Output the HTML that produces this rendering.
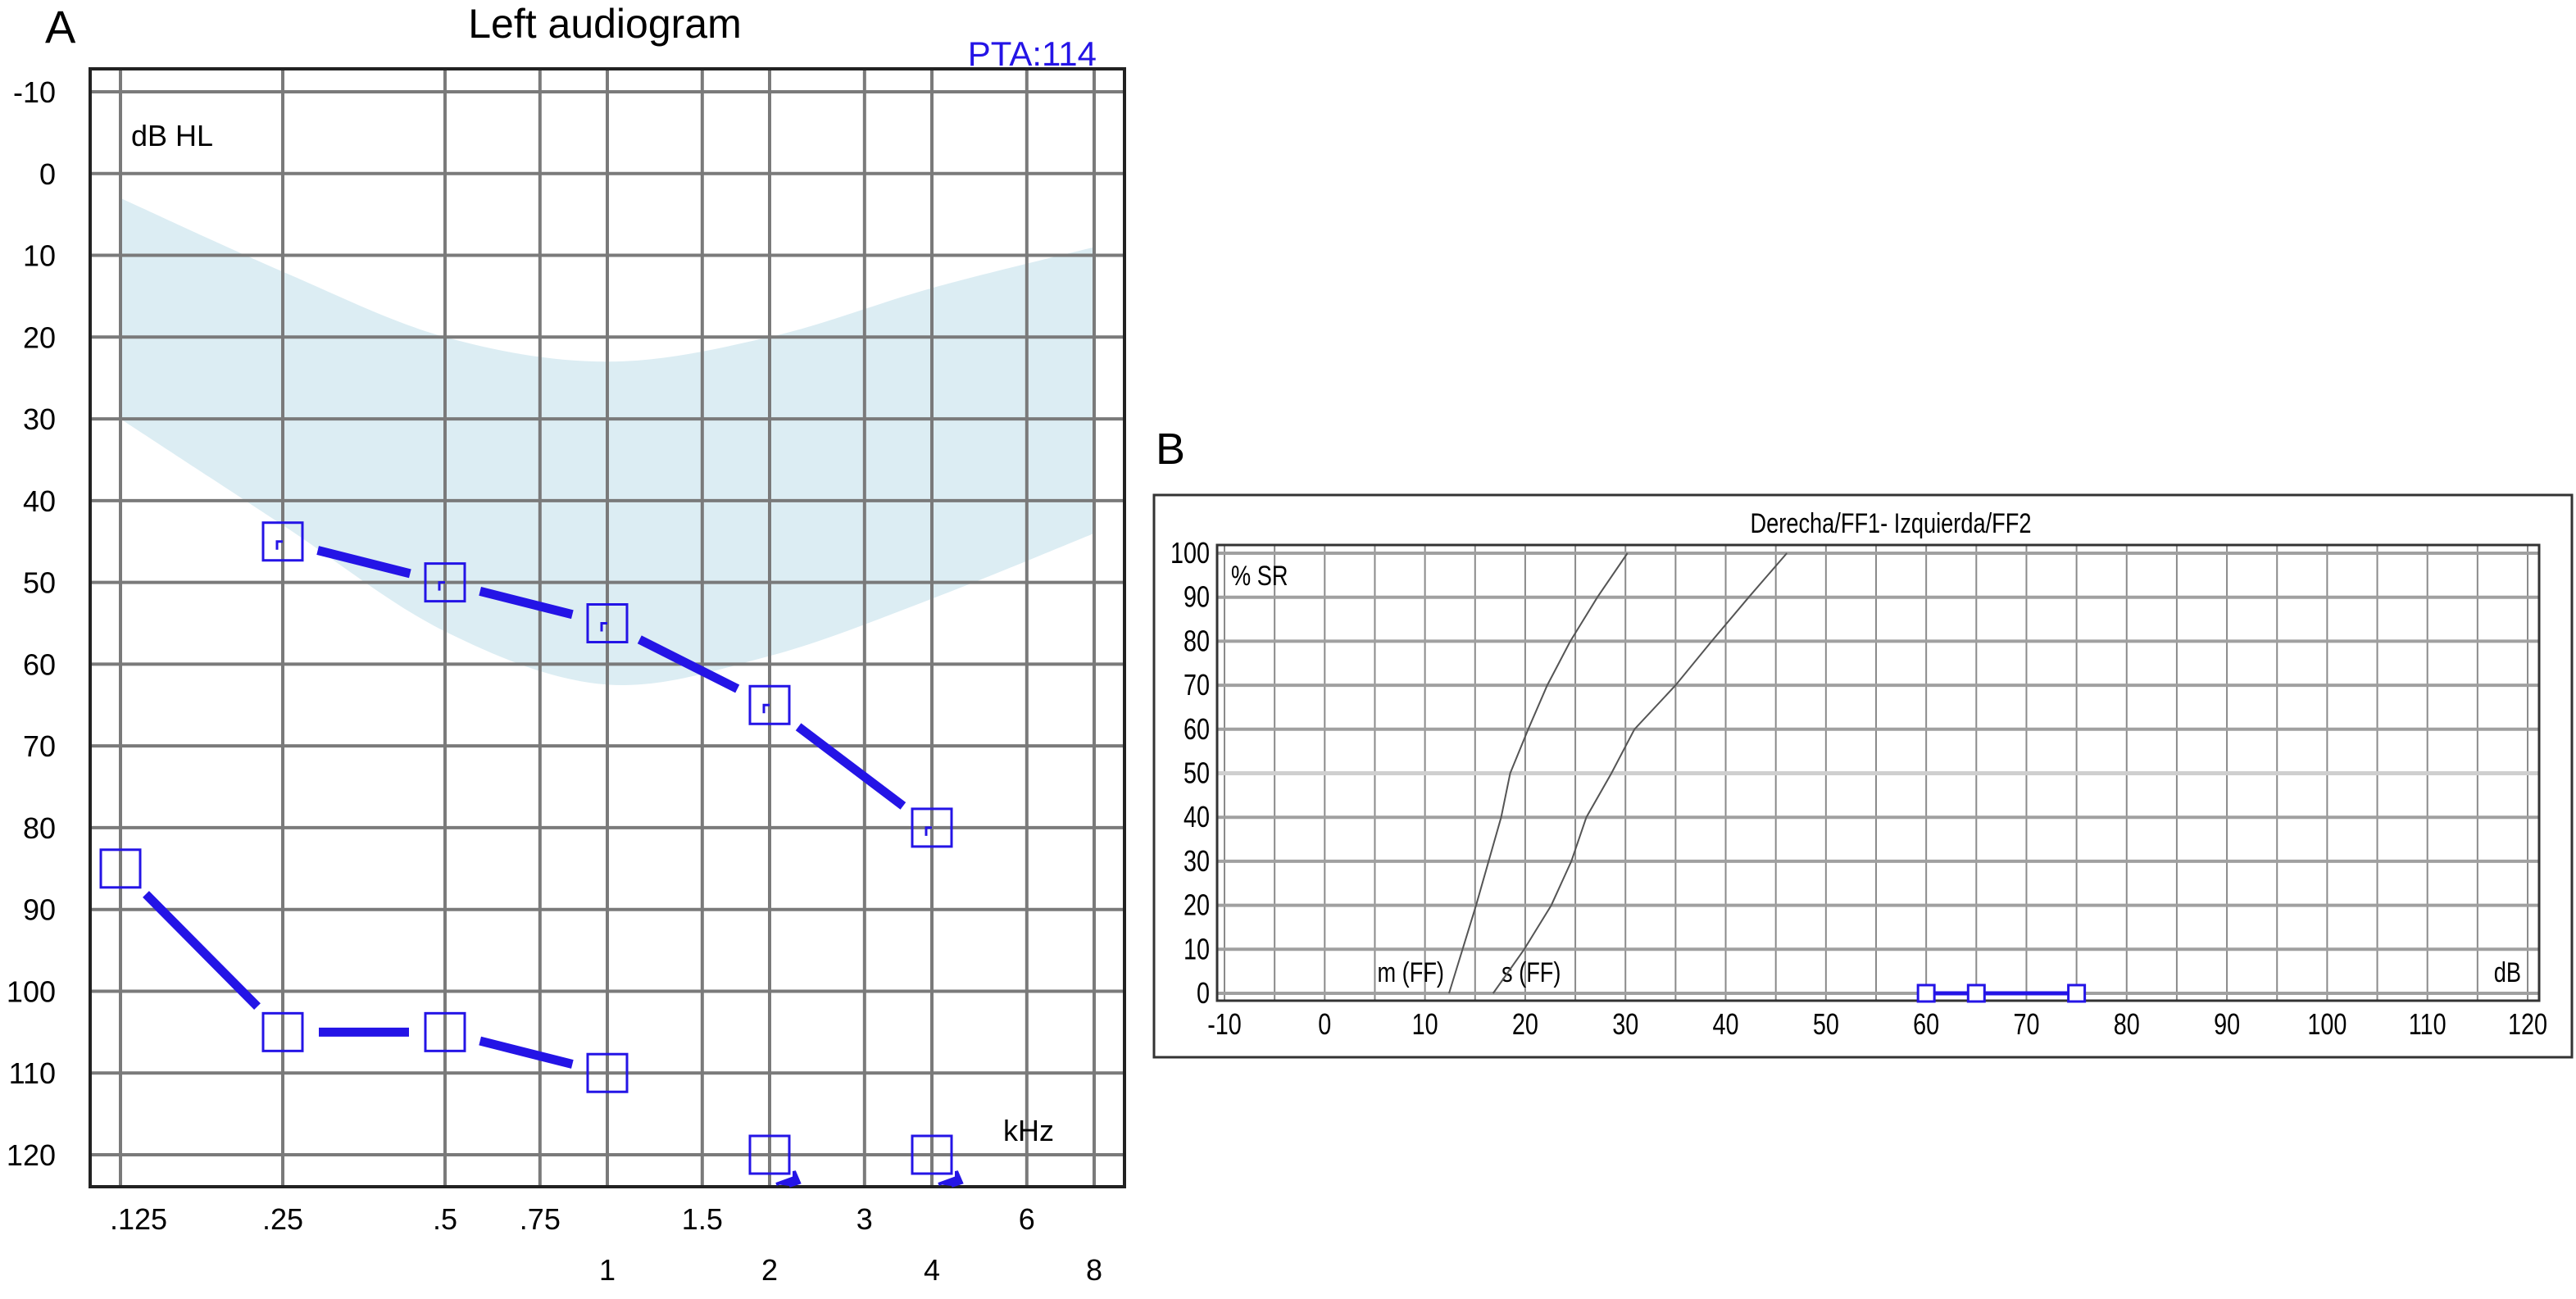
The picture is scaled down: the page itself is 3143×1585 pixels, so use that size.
<!DOCTYPE html>
<html><head><meta charset="utf-8"><style>
html,body{margin:0;padding:0;background:#fff;}
svg{display:block;font-family:"Liberation Sans",sans-serif;}
</style></head><body>
<svg id="s" width="3143" height="1585" viewBox="0 0 3143 1585" xmlns="http://www.w3.org/2000/svg">
<g id="A"></g>
<g id="B"></g>
</svg>
<script>
// ---- Panel A data ----
const freqTicks=[0.125,0.25,0.5,0.75,1,1.5,2,3,4,6,8];
const freqTopLabels=[".125",".25",".5",".75","","1.5","","3","","6",""];
const freqBotLabels=["","","","","1","","2","","4","","8"];
const dbTicks=[-10,0,10,20,30,40,50,60,70,80,90,100,110,120];
const bandFreq=[0.125,0.25,0.5,1,2,4,8];
const bandTop=[3,12,20,23,20,14,9];
const bandBottom=[30,43,56,62.5,59,52,44];
const s1Freq=[0.25,0.5,1,2,4];
const s1Db=[45,50,55,65,80];
const s2Freq=[0.125,0.25,0.5,1];
const s2Db=[85,105,105,110];
const nrFreq=[2,4];
const nrDb=[120,120];
// ---- Panel B data ----
const bXTicks=[-10,0,10,20,30,40,50,60,70,80,90,100,110,120];
const bYTicks=[0,10,20,30,40,50,60,70,80,90,100];
const mDb=[12.4,15.1,17.6,18.5,20.3,22.2,24.5,27.2,30.2];
const mPct=[0,20,40,50,60,70,80,90,100];
const sDb=[16.8,19.9,22.6,24.6,26.1,28.6,30.9,35,38.6,42.3,46.1];
const sPct=[0,10,20,30,40,50,60,70,80,90,100];
const bMarkDb=[60,65,75];
const bMarkPct=[0,0,0];

const NS="http://www.w3.org/2000/svg";
function mk(p,tag,at,txt){const e=document.createElementNS(NS,tag);for(const k in at)e.setAttribute(k,at[k]);if(txt!==undefined)e.textContent=txt;p.appendChild(e);return e;}
function nt(p,x,y,size,anchor,txt){return mk(p,'text',{x:0,y:0,'font-size':size,'text-anchor':anchor,transform:`translate(${x},${y}) scale(0.8,1)`},txt);}
const A=document.getElementById('A'),B=document.getElementById('B');
const BLUE="#2414e6";
const xA=f=>147+Math.log2(f/0.125)*198;
const yA=d=>112+(d+10)*(1409-112)/130;
let t;
t=mk(A,'text',{x:55,y:52,'font-size':56},"A");


t=mk(A,'text',{x:738,y:46,'font-size':50,'text-anchor':'middle'},"Left audiogram");


t=mk(A,'text',{x:1338,y:80,'font-size':42,'text-anchor':'end',fill:BLUE},"PTA:114");


// band (Catmull-Rom)
function cr(pts){let d="";for(let i=0;i<pts.length-1;i++){const p0=pts[Math.max(i-1,0)],p1=pts[i],p2=pts[i+1],p3=pts[Math.min(i+2,pts.length-1)];
  const c1=[p1[0]+(p2[0]-p0[0])/6,p1[1]+(p2[1]-p0[1])/6],c2=[p2[0]-(p3[0]-p1[0])/6,p2[1]-(p3[1]-p1[1])/6];
  d+=` C${c1[0]},${c1[1]} ${c2[0]},${c2[1]} ${p2[0]},${p2[1]}`;}return d;}
const bandTopPts=bandFreq.map((f,i)=>[xA(f),yA(bandTop[i])]);
const bandBotPts=bandFreq.map((f,i)=>[xA(f),yA(bandBottom[i])]).reverse();
const bd="M"+bandTopPts[0][0]+","+bandTopPts[0][1]+cr(bandTopPts)+" L"+bandBotPts[0][0]+","+bandBotPts[0][1]+cr(bandBotPts)+" Z";
t=mk(A,'path',{d:bd,fill:'#dcedf3'});


// grid
freqTicks.forEach((f,i)=>{
  t=mk(A,'line',{x1:xA(f),x2:xA(f),y1:84,y2:1448,stroke:'#7a7a7a','stroke-width':4});
  
  
  if(freqTopLabels[i]){t=mk(A,'text',{x:xA(f)+(i==0?22:0),y:1500,'font-size':36,'text-anchor':'middle'},freqTopLabels[i]);
  
  }
  if(freqBotLabels[i]){t=mk(A,'text',{x:xA(f),y:1562,'font-size':36,'text-anchor':'middle'},freqBotLabels[i]);
  
  }
});
dbTicks.forEach(d=>{
  t=mk(A,'line',{x1:110,x2:1372,y1:yA(d),y2:yA(d),stroke:'#7a7a7a','stroke-width':4});
  
  
  t=mk(A,'text',{x:68,y:yA(d)+13,'font-size':36,'text-anchor':'end'},String(d));
  
  
});
t=mk(A,'rect',{x:110,y:84,width:1262,height:1364,fill:'none',stroke:'#222','stroke-width':4});


t=mk(A,'text',{x:160,y:178,'font-size':36},"dB HL");


t=mk(A,'text',{x:1224,y:1392,'font-size':36},"kHz");


function conn(fs,ds,name){for(let i=1;i<fs.length;i++){const x0=xA(fs[i-1]),y0=yA(ds[i-1]),x1=xA(fs[i]),y1=yA(ds[i]);const L=Math.hypot(x1-x0,y1-y0),g=44;const ux=(x1-x0)/L,uy=(y1-y0)/L;
  const e=mk(A,'line',{x1:x0+ux*g,y1:y0+uy*g,x2:x1-ux*g,y2:y1-uy*g,stroke:BLUE,'stroke-width':11});
  
  }}
conn(s1Freq,s1Db,'series-1-line');conn(s2Freq,s2Db,'series-2-line');
function box(x,y,name){const e=mk(A,'rect',{x:x-24,y:y-23,width:48,height:46,fill:'none',stroke:BLUE,'stroke-width':3});
  
  }
s1Freq.forEach((f,i)=>{box(xA(f),yA(s1Db[i]),'series-1-point');
  const e=mk(A,'path',{d:`M${xA(f)-7},${yA(s1Db[i])+10} v-10 h7`,stroke:BLUE,'stroke-width':3,fill:'none'});
  
  });
s2Freq.forEach((f,i)=>box(xA(f),yA(s2Db[i]),'series-2-point'));
nrFreq.forEach((f,i)=>{const x=xA(f),y=yA(nrDb[i]);box(x,y,'no-response-point');
  const e=mk(A,'path',{d:`M${x+8},${y+36} L${x+30},${y+28} L${x+30},${y+20} L${x+36},${y+34} L${x+24},${y+38}`,stroke:BLUE,'stroke-width':4,fill:BLUE});
  
  });

// ---- Panel B ----
const xB=d=>1494+(d+10)*(3084-1494)/130;
const yB=p=>1212-p*(1212-675)/100;
t=mk(B,'text',{x:1410,y:566,'font-size':54},"B");


t=mk(B,'rect',{x:1408,y:604,width:1730,height:686,fill:'#fff',stroke:'#333','stroke-width':3});


t=nt(B,2307,650,34,'middle',"Derecha/FF1- Izquierda/FF2");


for(let d=-10;d<=120;d+=5){t=mk(B,'line',{x1:xB(d),x2:xB(d),y1:665,y2:1221,stroke:'#8a8a8a','stroke-width':2});
  
  }
bYTicks.forEach(p=>{t=mk(B,'line',{x1:1485,x2:3098,y1:yB(p),y2:yB(p),stroke:p==50?'#cfcfcf':'#a0a0a0','stroke-width':p==50?5:4});
  
  
  t=nt(B,1476,yB(p)+12,36,'end',String(p));
  
  });
bXTicks.forEach(d=>{t=nt(B,xB(d),1262,36,'middle',String(d));
  
  });
t=mk(B,'rect',{x:1485,y:665,width:1613,height:556,fill:'none',stroke:'#333','stroke-width':3});


t=nt(B,1502,714,34,'start',"% SR");


t=nt(B,1762,1198,34,'end',"m (FF)");


t=nt(B,1832,1198,34,'start',"s (FF)");


t=nt(B,3076,1198,34,'end',"dB");


t=mk(B,'polyline',{points:mDb.map((d,i)=>xB(d)+","+yB(mPct[i])).join(" "),fill:'none',stroke:'#555','stroke-width':2});


t=mk(B,'polyline',{points:sDb.map((d,i)=>xB(d)+","+yB(sPct[i])).join(" "),fill:'none',stroke:'#555','stroke-width':2});


t=mk(B,'polyline',{points:bMarkDb.map((d,i)=>xB(d)+","+yB(bMarkPct[i])).join(" "),fill:'none',stroke:BLUE,'stroke-width':5});


bMarkDb.forEach((d,i)=>{t=mk(B,'rect',{x:xB(d)-10,y:yB(bMarkPct[i])-10,width:20,height:20,fill:'#fff',stroke:BLUE,'stroke-width':3});
  
  });
</script>
</body></html>
